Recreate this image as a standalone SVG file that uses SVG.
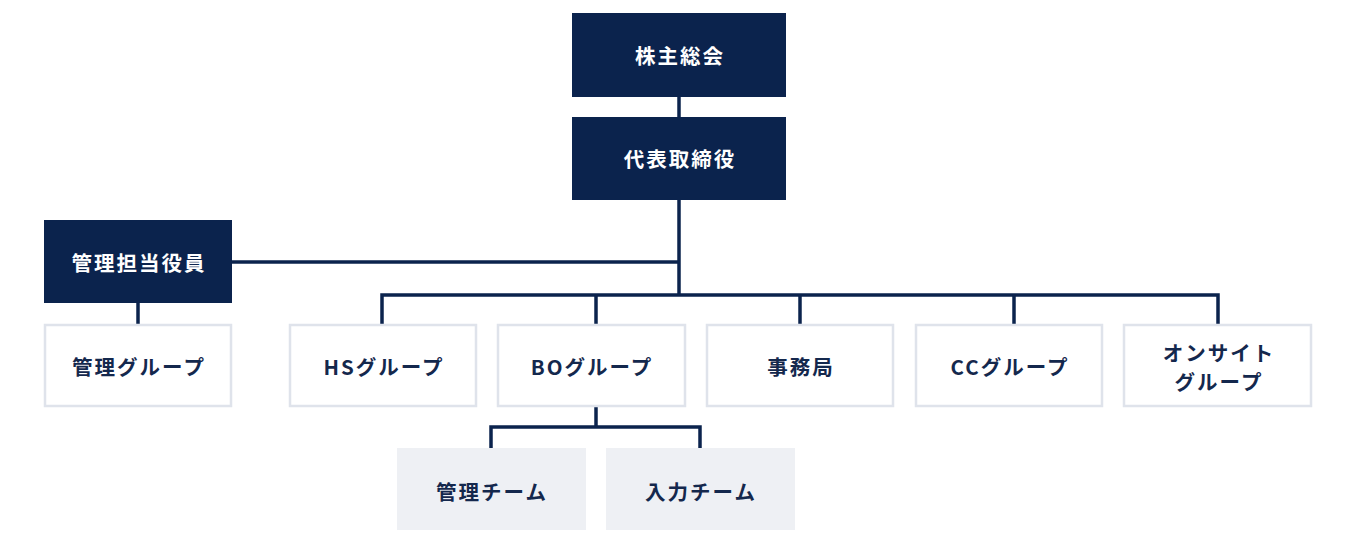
<svg xmlns="http://www.w3.org/2000/svg" width="1355" height="544" viewBox="0 0 1355 544">
<style>
.dark{fill:#0b234d}
.light{fill:#ffffff;stroke:#dfe3eb;stroke-width:2.5}
.sub{fill:#eef0f4}
.t{font-family:"Noto Sans CJK JP","Noto Sans",sans-serif;font-weight:700;font-size:20.5px;letter-spacing:2px;text-anchor:middle;dominant-baseline:central}
.tw{fill:#ffffff}
.td{fill:#14284d}
.ln{fill:none;stroke:#0b234d;stroke-width:3.5}
</style>
<rect width="1355" height="544" fill="#ffffff"/>
<g id="connectors">
<path class="ln" d="M679 97V117"/>
<path class="ln" d="M679 200V295"/>
<path class="ln" d="M232 262H679"/>
<path class="ln" d="M138 303V325"/>
<path class="ln" d="M382 324V295H1218V324"/>
<path class="ln" d="M596 295V324"/>
<path class="ln" d="M800 295V324"/>
<path class="ln" d="M1014 295V324"/>
<path class="ln" d="M596 407V427"/>
<path class="ln" d="M491 448V427H700V448"/>
</g>
<g id="n-kabunushi"><rect class="dark" x="572" y="13" width="214" height="84"/><text class="t tw" x="680" y="55">株主総会</text></g>
<g id="n-daihyo"><rect class="dark" x="572" y="117" width="214" height="83"/><text class="t tw" x="680" y="158">代表取締役</text></g>
<g id="n-kanri-yakuin"><rect class="dark" x="44" y="220" width="188" height="83"/><text class="t tw" x="139" y="262">管理担当役員</text></g>
<g id="n-kanri-group"><rect class="light" x="45" y="325" width="186" height="81"/><text class="t td" x="139" y="366">管理グループ</text></g>
<g id="n-hs"><rect class="light" x="290" y="325" width="186" height="81"/><text class="t td" x="384" y="366">HSグループ</text></g>
<g id="n-bo"><rect class="light" x="498" y="325" width="187" height="81"/><text class="t td" x="592" y="366">BOグループ</text></g>
<g id="n-jimu"><rect class="light" x="707" y="325" width="186" height="81"/><text class="t td" x="801" y="366">事務局</text></g>
<g id="n-cc"><rect class="light" x="916" y="325" width="186" height="81"/><text class="t td" x="1010" y="366">CCグループ</text></g>
<g id="n-onsite"><rect class="light" x="1124" y="325" width="187" height="81"/><text class="t td" x="1219" y="352">オンサイト</text><text class="t td" x="1219" y="381">グループ</text></g>
<g id="n-kanri-team"><rect class="sub" x="397" y="448" width="189" height="82"/><text class="t td" x="492" y="491">管理チーム</text></g>
<g id="n-nyuryoku-team"><rect class="sub" x="606" y="448" width="189" height="82"/><text class="t td" x="701" y="491">入力チーム</text></g>
</svg>
